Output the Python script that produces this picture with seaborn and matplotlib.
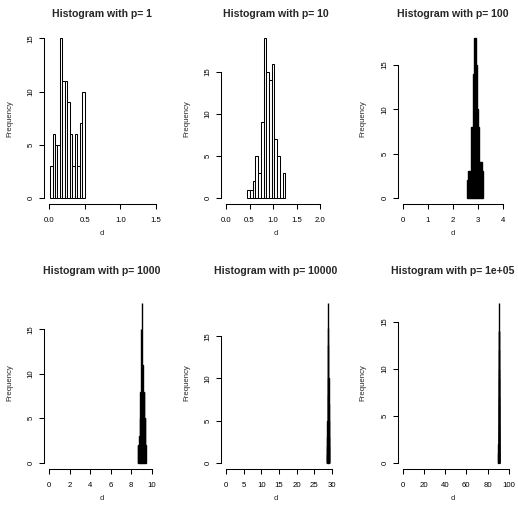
import matplotlib
matplotlib.use('Agg')
import matplotlib.pyplot as plt
import seaborn as sns
import numpy as np
import pandas as pd

# values: left edge of first bin, bin width, counts per bin
p_values = ['1', '10', '100', '1000', '10000', '1e+05']

p1_start, p1_width = 0.01, 0.035
p1_counts = [3, 6, 5, 5, 15, 11, 11, 9, 6, 3, 6, 3, 7, 10]

p10_start, p10_width = 0.45, 0.058
p10_counts = [1, 1, 2, 5, 3, 9, 19, 15, 14, 16, 7, 5, 0, 3]

p100_start, p100_width = 2.55, 0.05
p100_counts = [2, 3, 3, 8, 8, 14, 18, 15, 10, 8, 4, 4, 3]

p1000_start, p1000_width = 8.65, 0.05
p1000_counts = [2, 2, 2, 3, 5, 8, 15, 8, 18, 11, 8, 8, 5, 5, 2]

p10000_start, p10000_width = 28.55, 0.05
p10000_counts = [1, 2, 3, 5, 5, 8, 16, 19, 14, 10, 7, 5, 3, 2]

p100000_start, p100000_width = 90.3, 0.05
p100000_counts = [1, 2, 4, 7, 10, 14, 17, 14, 12, 9, 6, 3, 1]

# tick labels
x_ticks = [[0, 0.5, 1.0, 1.5], [0, 0.5, 1.0, 1.5, 2.0], [0, 1, 2, 3, 4],
           [0, 2, 4, 6, 8, 10], [0, 5, 10, 15, 20, 25, 30], [0, 20, 40, 60, 80, 100]]
x_ticklabels = [['0.0', '0.5', '1.0', '1.5'], ['0.0', '0.5', '1.0', '1.5', '2.0'],
                ['0', '1', '2', '3', '4'], ['0', '2', '4', '6', '8', '10'],
                ['0', '5', '10', '15', '20', '25', '30'], ['0', '20', '40', '60', '80', '100']]
y_ticks = [0, 5, 10, 15]

bins_info = [(p1_start, p1_width, p1_counts), (p10_start, p10_width, p10_counts),
             (p100_start, p100_width, p100_counts), (p1000_start, p1000_width, p1000_counts),
             (p10000_start, p10000_width, p10000_counts), (p100000_start, p100000_width, p100000_counts)]

sns.set_style('ticks')
plt.rcParams['font.family'] = ['Liberation Sans', 'DejaVu Sans']

W, H = 518, 508
fig = plt.figure(figsize=(W / 100, H / 100), dpi=100)

lefts = [44.3, 221, 397.7]
ax_w = 115
rows = [(32, 204.3), (296.4, 469)]
title_pad = [10.6, 16.3]
title_cx = [102, 276, 453]
x_axis_px = [106.7, 94, 100.6, 102.4, 106, 106]  # pixel length of the x axis line
x_inset = 5  # pixels between y axis and x = 0

for i in range(6):
    r, c = divmod(i, 3)
    top, bottom = rows[r]
    ax = fig.add_axes([lefts[c] / W, 1 - bottom / H, ax_w / W, (bottom - top) / H])

    start, width, counts = bins_info[i]
    counts = np.array(counts)
    edges = start + width * np.arange(len(counts) + 1)
    df = pd.DataFrame({'d': (edges[:-1] + edges[1:]) / 2, 'n': counts})

    s = x_axis_px[i] / (x_ticks[i][-1] - x_ticks[i][0])
    # bars narrower than ~1.5 px merge into a black mass in the reference
    dense = width * s < 1.5
    sns.histplot(data=df, x='d', weights='n', bins=list(edges), ax=ax,
                 color='black' if dense else 'white', edgecolor='black',
                 linewidth=1.0 if dense else 0.75, alpha=1)

    ymax = counts.max()
    x_lo = -x_inset / s
    ax.set_xlim(x_lo, x_lo + ax_w / s)
    ax.set_ylim(-0.04 * ymax, 1.04 * ymax)

    ax.set_xticks(x_ticks[i])
    ax.set_xticklabels(x_ticklabels[i])
    ax.set_yticks(y_ticks)
    ax.set_yticklabels([str(t) for t in y_ticks], rotation=90, va='center')

    sns.despine(ax=ax)
    ax.spines['left'].set_bounds(0, 15)
    ax.spines['bottom'].set_bounds(x_ticks[i][0], x_ticks[i][-1])
    for sp in ['left', 'bottom']:
        ax.spines[sp].set_color('black')
        ax.spines[sp].set_linewidth(0.75)
    ax.tick_params(axis='both', direction='out', length=3.6, width=0.75,
                   color='black', labelsize=5.6, labelcolor='black')
    ax.tick_params(axis='x', pad=5.5)
    ax.tick_params(axis='y', pad=3.2)

    ax.set_title('Histogram with p= ' + p_values[i], fontsize=7.6,
                 fontweight='bold', pad=title_pad[r],
                 x=(title_cx[c] - lefts[c]) / ax_w)
    ax.set_xlabel('d', fontsize=5.6)
    ax.set_ylabel('Frequency', fontsize=5.6)
    ax.xaxis.set_label_coords((title_cx[c] - lefts[c]) / ax_w, -26 / (bottom - top))
    ax.yaxis.set_label_coords(-31 / ax_w, 0.5)

fig.savefig('out.png', dpi=100)
